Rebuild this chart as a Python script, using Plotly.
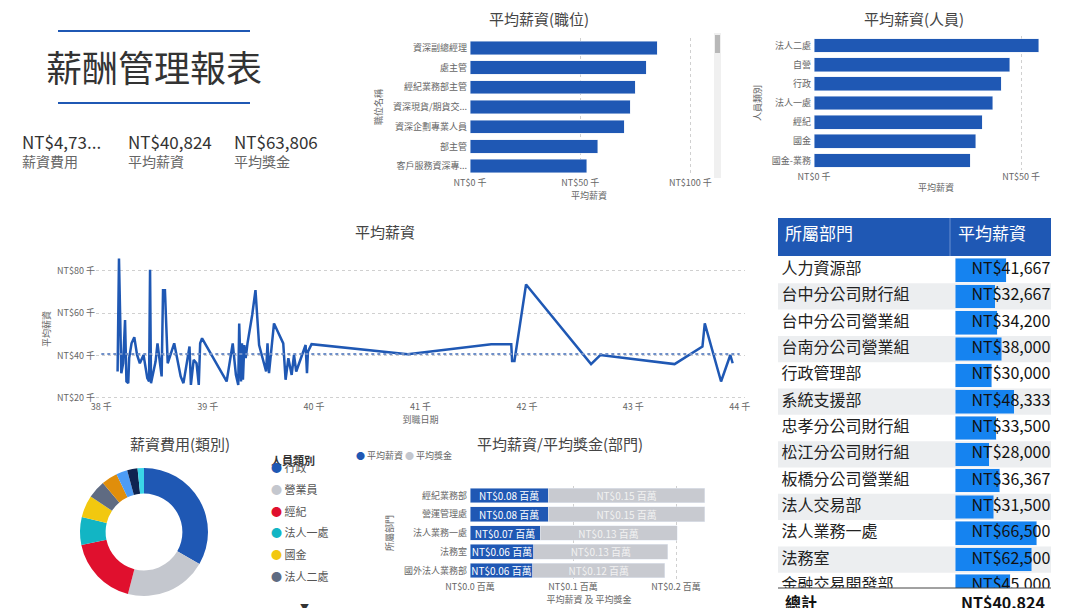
import plotly.graph_objects as go

W, H = 1080, 608
def px(x): return x / W
def py(y): return 1 - y / H

FONT = "Noto Sans CJK TC"
BLUE = "#1f58b4"
GRAY_T = "#666666"

# ---------------- data ----------------
kpi_values = ["NT$4,73...", "NT$40,824", "NT$63,806"]
kpi_labels = ["薪資費用", "平均薪資", "平均獎金"]

job_titles = ["資深副總經理", "處主管", "經紀業務部主管", "資深現貨/期貨交...", "資深企劃專業人員", "部主管", "客戶服務資深專..."]
job_salary = [85000, 80000, 75000, 72700, 70000, 58000, 53000]

person_types = ["法人二處", "自營", "行政", "法人一處", "經紀", "國金", "國金-業務"]
person_salary = [54300, 47300, 45200, 43200, 40600, 39100, 37700]

hire_dates = [38153, 38166, 38188, 38205, 38223, 38236, 38253, 38262, 38284, 38310, 38336, 38362,
              38397, 38432, 38449, 38458, 38467, 38510, 38528, 38567, 38580, 38598, 38624, 38685,
              38746, 38772, 38829, 38842, 38868, 38895, 38916, 38929, 38947, 39178, 39235, 39265,
              39287, 39296, 39313, 39322, 39331, 39344, 39357, 39374, 39418, 39449, 39483, 39549,
              39562, 39576, 39623, 39710, 39732, 39758, 39789, 39811, 39832, 39920, 39933, 39942,
              39976, 40880, 41665, 41853, 41861, 41883, 41992, 42603, 42690, 43388, 43650, 43672,
              43825, 43912, 43934]
hire_salary = [32500, 85800, 31700, 36400, 56800, 27800, 27000, 38800, 45800, 48700, 40300, 36400,
               40300, 29400, 27800, 80600, 27000, 37200, 45800, 30200, 70900, 70900, 36400, 45800,
               30200, 27000, 44300, 26200, 38000, 36400, 26200, 45800, 48200, 27800, 45800, 30900,
               26200, 55200, 27800, 45800, 28600, 45000, 38800, 45800, 59200, 70900, 45000, 32500,
               45800, 31700, 55200, 45800, 28600, 38800, 30900, 40300, 32500, 45000, 31700, 41900,
               45400, 40700, 45400, 45400, 37500, 37500, 73600, 36000, 40300, 36000, 44300, 55200,
               27800, 40300, 36400]
avg_salary = 40824
line_xticks = [38000, 39000, 40000, 41000, 42000, 43000, 44000]
line_xtext = ["38 千", "39 千", "40 千", "41 千", "42 千", "43 千", "44 千"]
line_yticks = [20000, 40000, 60000, 80000]
line_ytext = ["NT$20 千", "NT$40 千", "NT$60 千", "NT$80 千"]

pie_labels = ["行政", "營業員", "經紀", "法人一處", "國金", "法人二處", "自營", "國金-業務", "稽核", "資訊"]
pie_values = [33, 20.5, 17.5, 7, 5.5, 4.5, 4, 2.8, 2.6, 1.6]
pie_colors = ["#1f58b4", "#c4c7ce", "#e0102e", "#12b5c4", "#f2c80f", "#5f6b82", "#e08e0b", "#4d9cf5", "#0f2450", "#3ad6e8"]

dept5 = ["經紀業務部", "營運管理處", "法人業務一處", "法務室", "國外法人業務部"]
dept5_salary = [0.076, 0.076, 0.068, 0.062, 0.061]
dept5_bonus = [0.152, 0.152, 0.133, 0.130, 0.128]
dept5_salary_txt = ["NT$0.08 百萬", "NT$0.08 百萬", "NT$0.07 百萬", "NT$0.06 百萬", "NT$0.06 百萬"]
dept5_bonus_txt = ["NT$0.15 百萬", "NT$0.15 百萬", "NT$0.13 百萬", "NT$0.13 百萬", "NT$0.12 百萬"]

table_depts = ["人力資源部", "台中分公司財行組", "台中分公司營業組", "台南分公司營業組", "行政管理部", "系統支援部",
               "忠孝分公司財行組", "松江分公司財行組", "板橋分公司營業組", "法人交易部", "法人業務一處", "法務室", "金融交易開發部"]
table_salary = [41667, 32667, 34200, 38000, 30000, 48333, 33500, 28000, 36367, 31500, 66500, 62500, 45000]
table_total = "NT$40,824"

# ---------------- figure ----------------
fig = go.Figure()

fig.add_trace(go.Bar(y=job_titles, x=job_salary, orientation="h", marker_color=BLUE,
                     width=0.68, xaxis="x", yaxis="y", showlegend=False))
fig.add_trace(go.Bar(y=person_types, x=person_salary, orientation="h", marker_color=BLUE,
                     width=0.72, xaxis="x2", yaxis="y2", showlegend=False))
fig.add_trace(go.Scatter(x=hire_dates, y=hire_salary, mode="lines", line=dict(color=BLUE, width=2.5),
                         xaxis="x3", yaxis="y3", showlegend=False))
fig.add_trace(go.Scatter(x=[line_xticks[0], line_xticks[-1]], y=[avg_salary, avg_salary], mode="lines",
                         line=dict(color="#6f8fc8", width=2, dash="dot"), xaxis="x3", yaxis="y3", showlegend=False))
fig.add_trace(go.Bar(y=dept5, x=dept5_salary, orientation="h", marker_color=BLUE, width=0.78,
                     text=dept5_salary_txt, textposition="inside", insidetextanchor="middle", constraintext="none",
                     textfont=dict(color="white", size=10, family=FONT), xaxis="x4", yaxis="y4", showlegend=False))
fig.add_trace(go.Bar(y=dept5, x=dept5_bonus, orientation="h", marker_color="#c8cad0", width=0.78,
                     text=dept5_bonus_txt, textposition="inside", insidetextanchor="middle", constraintext="none",
                     textfont=dict(color="#f2f2f2", size=10, family=FONT), xaxis="x4", yaxis="y4", showlegend=False))
fig.add_trace(go.Pie(labels=pie_labels, values=pie_values, hole=0.6, sort=False, direction="clockwise",
                     rotation=0, marker=dict(colors=pie_colors), textinfo="none", showlegend=False,
                     domain=dict(x=[px(72), px(200)], y=[py(588), py(460)])))
rows = list(range(len(table_depts)))
fig.add_trace(go.Bar(y=rows, x=table_salary, orientation="h", marker_color="#1583f0", width=0.9,
                     xaxis="x5", yaxis="y5", showlegend=False))
fig.add_trace(go.Scatter(y=rows, x=[77.5e3] * len(rows), mode="text", text=[f"NT${v:,}" for v in table_salary],
                         textposition="middle left", textfont=dict(size=16, color="#111", family=FONT),
                         cliponaxis=True, xaxis="x5", yaxis="y5", showlegend=False))
fig.add_trace(go.Scatter(y=rows, x=[0.02] * len(rows), mode="text", text=table_depts,
                         textposition="middle right", textfont=dict(size=16, color="#222", family=FONT),
                         cliponaxis=True, xaxis="x6", yaxis="y5", showlegend=False))

tick_font = dict(size=9, color=GRAY_T, family=FONT)
grid = dict(showgrid=True, gridcolor="#d0d0d0", griddash="dot", zeroline=False, automargin=False)
noam = dict(automargin=False)

layout = dict(
    width=W, height=H, autosize=False, margin=dict(l=0, r=0, t=0, b=0, autoexpand=False),
    paper_bgcolor="white", plot_bgcolor="white",
    font=dict(family=FONT), barmode="stack",
    xaxis=dict(domain=[px(462), px(700)], range=[0, 108000], tickvals=[0, 50000, 100000],
               ticktext=["NT$0 千", "NT$50 千", "NT$100 千"], tickfont=tick_font, **grid,
               title=dict(text="平均薪資", font=tick_font, standoff=2), anchor="y"),
    yaxis=dict(domain=[py(168), py(30)], autorange="reversed", tickfont=tick_font, anchor="x", **noam,
               title=dict(text="職位名稱", font=tick_font, standoff=8), ticksuffix=" "),
    xaxis2=dict(domain=[px(806), px(1050)], range=[0, 58900], tickvals=[0, 50000],
                ticktext=["NT$0 千", "NT$50 千"], tickfont=tick_font, **grid,
                title=dict(text="平均薪資", font=tick_font, standoff=2), anchor="y2"),
    yaxis2=dict(domain=[py(162), py(28)], autorange="reversed", tickfont=tick_font, anchor="x2", **noam,
                title=dict(text="人員類別", font=tick_font, standoff=8), ticksuffix=" "),
    xaxis3=dict(domain=[px(88), px(737)], range=[37950, 44050], tickvals=line_xticks, ticktext=line_xtext,
                tickfont=tick_font, showgrid=False, zeroline=False, anchor="y3", **noam,
                title=dict(text="到職日期", font=tick_font, standoff=2)),
    yaxis3=dict(domain=[py(392), py(250)], range=[19050, 86100], tickvals=line_yticks, ticktext=line_ytext,
                tickfont=tick_font, **grid, anchor="x3", ticksuffix=" ",
                title=dict(text="平均薪資", font=tick_font, standoff=4)),
    xaxis4=dict(domain=[px(462), px(700)], range=[0, 0.231], tickvals=[0, 0.1, 0.2],
                ticktext=["NT$0.0 百萬", "NT$0.1 百萬", "NT$0.2 百萬"], tickfont=tick_font, **grid, anchor="y4",
                title=dict(text="平均薪資 及 平均獎金", font=tick_font, standoff=2)),
    yaxis4=dict(domain=[py(572), py(478)], autorange="reversed", tickfont=tick_font, anchor="x4", ticksuffix=" ",
                **noam, title=dict(text="所屬部門", font=tick_font, standoff=8)),
    xaxis5=dict(domain=[px(947), px(1043)], range=[0, 78000], visible=False, anchor="y5", **noam),
    yaxis5=dict(domain=[py(580), py(249)], range=[12.08, -0.5], visible=False, anchor="x5", **noam),
    xaxis6=dict(domain=[px(770), px(942)], range=[0, 1], visible=False, anchor="y5", **noam),
)
fig.update_layout(**layout)

shapes = []
ann = []
def text(x, y, s, size, color="#333", xanchor="left", bold=False):
    ann.append(dict(x=px(x), y=py(y), xref="paper", yref="paper", text=f"<b>{s}</b>" if bold else s,
                    showarrow=False, xanchor=xanchor, yanchor="middle",
                    font=dict(size=size, color=color, family=FONT)))
def rect(x0, y0, x1, y1, color):
    shapes.append(dict(type="rect", xref="paper", yref="paper", x0=px(x0), x1=px(x1), y0=py(y1), y1=py(y0),
                       fillcolor=color, line=dict(width=0), layer="below"))
def hline(x0, x1, y, color, width):
    shapes.append(dict(type="line", xref="paper", yref="paper", x0=px(x0), x1=px(x1), y0=py(y), y1=py(y),
                       line=dict(color=color, width=width)))

hline(50, 242, 23, BLUE, 2)
hline(50, 242, 95, BLUE, 2)
text(146, 58, "薪酬管理報表", 36, "#333", "center")
for i, (v, l) in enumerate(zip(kpi_values, kpi_labels)):
    x = 12 + i * 106
    text(x, 133, v, 17, "#333")
    text(x, 153, l, 14, "#666")

text(531, 10, "平均薪資(職位)", 15, "#444", "center")
text(906, 10, "平均薪資(人員)", 15, "#444", "center")
text(377, 223, "平均薪資", 15, "#444", "center")
text(172, 435, "薪資費用(類別)", 15, "#444", "center")
text(552, 435, "平均薪資/平均獎金(部門)", 15, "#444", "center")

rect(706, 25, 713, 170, "#f0f0f0")
rect(707, 27, 712, 45, "#b8b8b8")
rect(1074, 25, 1080, 165, "#f0f0f0")
rect(1075, 27, 1080, 120, "#b8b8b8")
rect(1073, 228, 1080, 583, "#f0f0f0")
rect(1074, 232, 1080, 333, "#c0c0c0")
text(1076, 219, "˄", 10, "#666", "center")
text(1076, 590, "˅", 10, "#666", "center")

ann.append(dict(x=px(346), y=py(456), xref="paper", yref="paper", showarrow=False, xanchor="left",
                text="<span style='color:#1f58b4'>●</span> 平均薪資 <span style='color:#c4c7ce'>●</span> 平均獎金",
                font=dict(size=9, color=GRAY_T, family=FONT)))

text(261, 452, "人員類別", 11, "#333", bold=True)
for i in range(6):
    y = 469 + i * 21.8
    ann.append(dict(x=px(261), y=py(y), xref="paper", yref="paper", showarrow=False, xanchor="left",
                    text=f"<span style='color:{pie_colors[i]}'>●</span> {pie_labels[i]}",
                    font=dict(size=11, color="#555", family=FONT)))
text(296, 599, "▼", 9, "#333", "center")

rect(770, 210, 1043, 248, "#1f58b4")
shapes.append(dict(type="line", xref="paper", yref="paper", x0=px(942), x1=px(942), y0=py(210), y1=py(248),
                   line=dict(color="#6b8fd0", width=1)))
text(775, 224, "所屬部門", 17, "white")
text(948, 224, "平均薪資", 17, "white")
for i in range(len(table_depts)):
    if i % 2 == 1:
        shapes.append(dict(type="rect", xref="paper", yref="y5", x0=px(770), x1=px(1043), y0=i - 0.5, y1=i + 0.5,
                           fillcolor="#eceef0", line=dict(width=0), layer="below"))
hline(770, 1043, 580, "#444", 1)
text(775, 594, "總計", 16, "#111", bold=True)
text(1039, 594, table_total, 16, "#111", "right", bold=True)

fig.update_layout(shapes=shapes, annotations=ann)
fig.write_html("out.html")
